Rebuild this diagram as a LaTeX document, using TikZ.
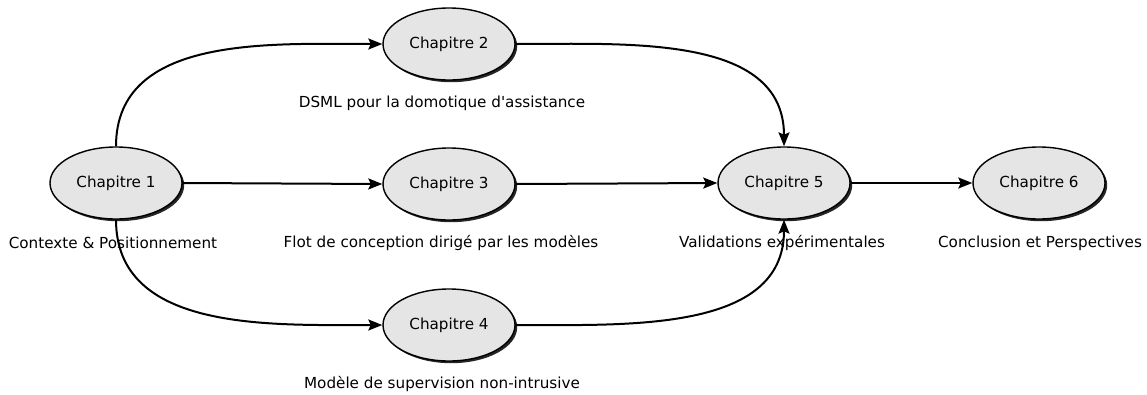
\documentclass[tikz,border=0pt]{standalone}
\usepackage{fontspec}
\setmainfont{DejaVu Sans}[Ligatures=TeXOff]
\usetikzlibrary{arrows.meta,shadows,shapes.geometric}

\tikzset{
  chap/.style={ellipse,draw,line width=1.4pt,fill=black!10,minimum width=132pt,minimum height=72pt,
    drop shadow={shadow xshift=2.2pt,shadow yshift=-2.2pt,fill=black!85,opacity=1}},
  chaplabel/.style={inner sep=0pt},
  link/.style={line width=2pt,-{Stealth[length=14pt,width=11pt,inset=2.5pt]}}
}

\begin{document}
\begin{tikzpicture}[x=1pt,y=-1pt,font=\fontsize{15.2}{18}\selectfont]
  \useasboundingbox (0,0) rectangle (1147,394);

  % chapitres
  \node[chap] (c1) at (116,183) {Chapitre 1};
  \node[chap] (c2) at (449,44)  {Chapitre 2};
  \node[chap] (c3) at (449,184) {Chapitre 3};
  \node[chap] (c4) at (449,325) {Chapitre 4};
  \node[chap] (c5) at (784,183) {Chapitre 5};
  \node[chap] (c6) at (1039,183) {Chapitre 6};

  % sous-titres
  \node[chaplabel] (t1) at (113,243) {Contexte \& Positionnement};
  \node[chaplabel] (t2) at (442,103) {DSML pour la domotique d'assistance};
  \node[chaplabel] (t3) at (441,243) {Flot de conception dirigé par les modèles};
  \node[chaplabel] (t4) at (442,384) {Modèle de supervision non-intrusive};
  \node[chaplabel] (t5) at (782,243) {Validations expérimentales};
  \node[chaplabel] (t6) at (1040,243) {Conclusion et Perspectives};

  % liens
  \draw[link] (c1.north) to[out=90,in=180] (c2.west);
  \draw[link] (c1.east) -- (c3.west);
  \draw[link] (c1.south) to[out=-90,in=180] (c4.west);
  \draw[link] (c2.east) to[out=0,in=90] (c5.north);
  \draw[link] (c3.east) -- (c5.west);
  \draw[link] (c4.east) to[out=0,in=-90] (c5.south);
  \draw[link] (c5.east) -- (c6.west);
\end{tikzpicture}
\end{document}
